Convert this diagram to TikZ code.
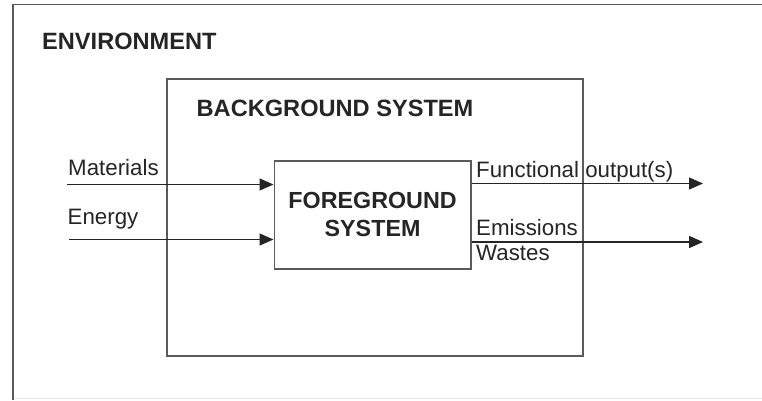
\documentclass[tikz,border=0pt]{standalone}
\usepackage{fontspec}
\setmainfont{Liberation Sans}
\usetikzlibrary{arrows.meta}
\definecolor{linec}{HTML}{5A5A5A}
\definecolor{textc}{HTML}{252525}
\tikzset{
  boxline/.style={draw=linec, line width=1.6pt},
  flow/.style={draw=textc, line width=1.5pt, -{Triangle[length=14pt,width=12pt]}},
  title/.style={anchor=base west, inner sep=0pt, text=textc, font=\fontsize{23.6}{27}\selectfont\bfseries},
  lbl/.style={anchor=base west, inner sep=0pt, text=textc, font=\fontsize{22.3}{26}\selectfont},
}
\begin{document}
\begin{tikzpicture}[x=1pt,y=-1pt]
\useasboundingbox (0,0) rectangle (762,400);
% environment frame (open at right)
\coordinate (envtr) at (762,4.5);
\coordinate (envtl) at (13,4.5);
\coordinate (envbl) at (13,400);
\draw[boxline] (envtr) -- (envtl) -- (envbl);
\coordinate (envbr) at (762,398.5);
\draw[draw=linec!15, line width=1pt] (envbl) ++(1,-1.5) -- (envbr);
% background box
\node[boxline, minimum width=416pt, minimum height=277pt, inner sep=0pt, anchor=north west] (bg) at (166,78) {};
% foreground box
\node[boxline, minimum width=196.5pt, minimum height=108pt, inner sep=0pt, anchor=north west] (fg) at (273.5,160) {};
% titles
\node[title] (env) at (42,49) {ENVIRONMENT};
\node[title] (bgt) at (196.5,116.5) {BACKGROUND SYSTEM};
\node[title, anchor=center, align=center, font=\fontsize{23.3}{28}\selectfont\bfseries] (fgt) at (fg.center) {FOREGROUND\\SYSTEM};
% flow labels
\node[lbl] (mat) at (68,175) {Materials};
\node[lbl] (ene) at (67.5,224) {Energy};
\node[lbl] (fun) at (476,177) {Functional output(s)};
\node[lbl] (emi) at (476,235) {Emissions};
\node[lbl] (was) at (476,260) {Wastes};
% flows
\coordinate (m0) at (67,184.5);
\coordinate (e0) at (69,239.5);
\coordinate (f1) at (703,183.5);
\coordinate (w1) at (703,242);
\draw[flow] (m0) -- (m0 -| fg.west);
\draw[flow] (e0) -- (e0 -| fg.west);
\draw[flow] (f1 -| fg.east) -- (f1);
\draw[flow] (w1 -| fg.east) -- (w1);
\end{tikzpicture}
\end{document}
